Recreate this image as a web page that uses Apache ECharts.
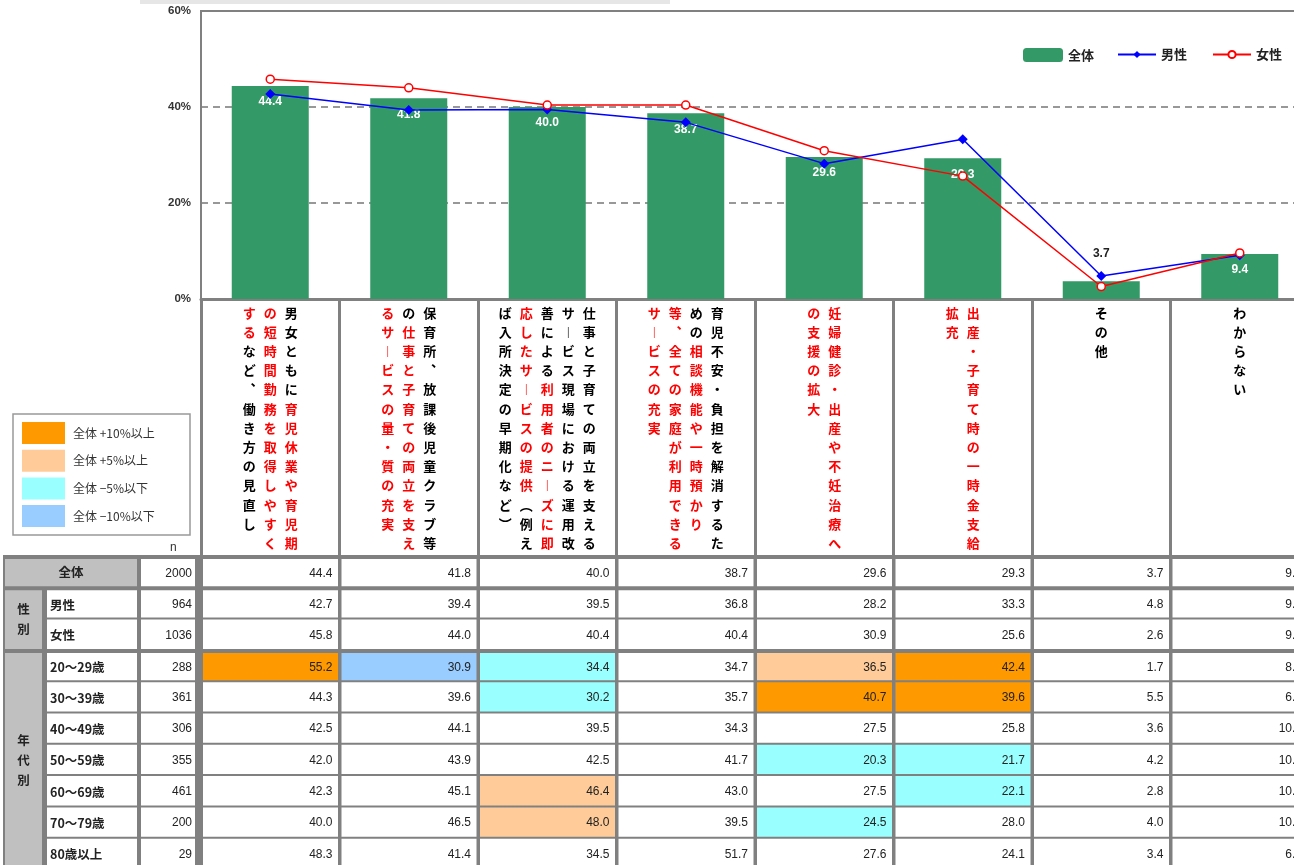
<!DOCTYPE html>
<html>
<head>
<meta charset="utf-8">
<script src="https://cdn.jsdelivr.net/npm/echarts@6/dist/echarts.min.js"></script>
<style>
html, body { margin: 0; padding: 0; background: #fff; }
#chart { width: 1294px; height: 865px; }
</style>
</head>
<body>
<div id="chart"></div>
<script>
// vertical label columns, read right to left; [..] marks red text
const categoryColumns = [
  ['男女ともに[育児休業や育児期]', '[の短時間勤務を取得しやすく]', '[する]など、働き方の見直し'],
  ['保育所、放課後児童クラブ等', 'の[仕事と子育ての両立を支え]', '[るサービスの量・質の充実]'],
  ['仕事と子育ての両立を支える', 'サービス現場における運用改', '善による[利用者のニーズに即]', '[応したサービスの提供]（例え', 'ば入所決定の早期化など）'],
  ['育児不安・負担を解消するた', 'めの[相談機能や一時預かり]', '[等、全ての家庭が利用できる]', '[サービスの充実]'],
  ['[妊婦健診・出産や不妊治療へ]', '[の支援の拡大]'],
  ['[出産・子育て時の一時金支給]', '[拡充]'],
  ['その他'],
  ['わからない']
]
const categories = categoryColumns.map(cols => cols.join('').replace(/[\[\]]/g, ''))

const totalValues = [44.4, 41.8, 40.0, 38.7, 29.6, 29.3, 3.7, 9.4]
const maleValues = [42.7, 39.4, 39.5, 36.8, 28.2, 33.3, 4.8, 9.1]
const femaleValues = [45.8, 44.0, 40.4, 40.4, 30.9, 25.6, 2.6, 9.6]

const totalN = 2000
const genderLabels = ['男性', '女性']
const genderN = [964, 1036]
const ageLabels = ['20～29歳', '30～39歳', '40～49歳', '50～59歳', '60～69歳', '70～79歳', '80歳以上']
const ageN = [288, 361, 306, 355, 461, 200, 29]
const ageValues = [
  [55.2, 30.9, 34.4, 34.7, 36.5, 42.4, 1.7, 8.3],
  [44.3, 39.6, 30.2, 35.7, 40.7, 39.6, 5.5, 6.6],
  [42.5, 44.1, 39.5, 34.3, 27.5, 25.8, 3.6, 10.1],
  [42.0, 43.9, 42.5, 41.7, 20.3, 21.7, 4.2, 10.7],
  [42.3, 45.1, 46.4, 43.0, 27.5, 22.1, 2.8, 10.4],
  [40.0, 46.5, 48.0, 39.5, 24.5, 28.0, 4.0, 10.0],
  [48.3, 41.4, 34.5, 51.7, 27.6, 24.1, 3.4, 6.9]
]

const colorKeys = [
  { label: '全体 +10%以上', color: '#FF9900' },
  { label: '全体 +5%以上', color: '#FFCC99' },
  { label: '全体 −5%以下', color: '#99FFFF' },
  { label: '全体 −10%以下', color: '#99CCFF' }
]

const GREEN = '#339966'
const BORDER = '#808080'
const JP = '"Noto Sans CJK JP", sans-serif'
const NUM = '"Liberation Sans", Arial, sans-serif'

// table rows
const tableRows = [totalValues, maleValues, femaleValues].concat(ageValues)
const tableN = [totalN].concat(genderN, ageN)
const rowNames = ['全体'].concat(genderLabels, ageLabels)

function cellColor(v, c, r) {
  if (r === 0 || tableN[r] < 30) return '#FFFFFF'
  const diff = v - totalValues[c]
  if (diff >= 10) return colorKeys[0].color
  if (diff >= 5) return colorKeys[1].color
  if (diff <= -10) return colorKeys[3].color
  if (diff <= -5) return colorKeys[2].color
  return '#FFFFFF'
}

const tableData = []
tableRows.forEach((row, r) => row.forEach((v, c) => tableData.push([c, r, v])))

function rowTopPad(r) {
  return (r === 0 || r === 1 || r === 3) ? 4 : 2
}

// header column edges (grid units)
const hx = [0, 41, 136, 198]
const headerCells = [
  [0, 2, 0, 0, '全体', 'gc'],
  [2, 3, 0, 0, String(totalN), 'n'],
  [0, 1, 1, 2, '性\n別', 'gv'],
  [0, 1, 3, 9, '年\n代\n別', 'gv']
]
for (let r = 1; r < rowNames.length; r++) {
  headerCells.push([1, 2, r, r, rowNames[r], 'l'])
  headerCells.push([2, 3, r, r, String(tableN[r]), 'n'])
}

// vertical text -> rich rows
const vert = { 'ー': '︱', '、': '︑', '（': '︵', '）': '︶' }
function parseColumn(s) {
  const out = []
  let red = false
  for (const ch of s) {
    if (ch === '[') { red = true; continue }
    if (ch === ']') { red = false; continue }
    out.push({ ch: vert[ch] || ch, red })
  }
  return out
}
const categoryLabels = categoryColumns.map(cols => {
  const parsed = cols.map(parseColumn).reverse()
  const rows = Math.max(...parsed.map(p => p.length))
  const lines = []
  for (let i = 0; i < rows; i++) {
    lines.push(parsed.map(p => {
      const t = p[i]
      if (!t) return '{e|　}'
      return (t.red ? '{r|' : '{k|') + t.ch + '}'
    }).join(''))
  }
  return lines.join('\n')
})

const chart = echarts.init(document.getElementById('chart'))

const legendGraphics = [{
  type: 'rect',
  shape: { x: 13, y: 414, width: 177, height: 121 },
  style: { fill: '#fff', stroke: '#999', lineWidth: 1.5 }
}]
colorKeys.forEach((k, i) => {
  const y = 422 + i * 27.7
  legendGraphics.push({
    type: 'rect',
    shape: { x: 22, y: y, width: 43, height: 22 },
    style: { fill: k.color }
  })
  legendGraphics.push({
    type: 'text',
    style: { text: k.label, x: 73, y: y + 11, verticalAlign: 'middle', font: '12px ' + JP, fill: '#333' }
  })
})

const legendText = { fontFamily: JP, fontSize: 13, fontWeight: 'bold', color: '#222' }
const richBase = { fontFamily: JP, fontSize: 13, fontWeight: 'bold', width: 21, align: 'center', lineHeight: 19.2 }

const option = {
  animation: false,
  backgroundColor: '#fff',
  graphic: [
    { type: 'rect', shape: { x: 140, y: 0, width: 530, height: 4 }, style: { fill: '#e6e6e6' } },
    { type: 'group', children: legendGraphics },
    { type: 'text', style: { text: 'n', x: 170, y: 548, verticalAlign: 'middle', font: '12px ' + NUM, fill: '#333' } }
  ],
  legend: [
    {
      data: ['全体'],
      left: 1018,
      top: 43,
      itemWidth: 40,
      itemHeight: 14,
      textStyle: legendText
    },
    {
      data: ['男性', '女性'],
      left: 1112,
      top: 43,
      itemWidth: 38,
      itemHeight: 9,
      itemGap: 25,
      textStyle: legendText
    }
  ],
  grid: [
    { left: 201, top: 11, width: 1108, height: 288, show: true, borderColor: BORDER, borderWidth: 2, outerBoundsMode: 'none' },
    { left: 201, top: 555, width: 1108, height: 313, show: true, backgroundColor: BORDER, borderWidth: 0, outerBoundsMode: 'none' },
    { left: 3, top: 555, width: 198, height: 313, show: true, backgroundColor: BORDER, borderWidth: 0, outerBoundsMode: 'none' }
  ],
  xAxis: [
    {
      type: 'category',
      gridIndex: 0,
      data: categories,
      axisLine: { lineStyle: { color: BORDER, width: 3 } },
      axisTick: { show: true, length: 256, lineStyle: { color: BORDER, width: 3 } },
      axisLabel: {
        interval: 0,
        margin: 4,
        formatter: (val, idx) => categoryLabels[idx],
        rich: {
          k: Object.assign({ color: '#000' }, richBase),
          r: Object.assign({ color: '#FF0000' }, richBase),
          e: Object.assign({}, richBase)
        }
      }
    },
    {
      type: 'category',
      gridIndex: 0,
      data: categories,
      position: 'bottom',
      axisLine: { show: false },
      axisTick: { show: true, inside: true, length: 5, lineStyle: { color: BORDER, width: 2 } },
      axisLabel: { show: false }
    },
    { type: 'category', gridIndex: 1, data: categories, show: false },
    { type: 'value', gridIndex: 2, min: 0, max: 198, show: false }
  ],
  yAxis: [
    {
      type: 'value',
      gridIndex: 0,
      min: 0,
      max: 60,
      interval: 20,
      axisLine: { show: true, lineStyle: { color: BORDER, width: 2 } },
      axisTick: { show: false },
      axisLabel: { formatter: '{value}%', margin: 10, color: '#333', fontSize: 11.5, fontWeight: 'bold', fontFamily: NUM },
      splitLine: { show: true, showMinLine: false, showMaxLine: false, lineStyle: { color: '#777', width: 1.5, type: [7, 5] } }
    },
    { type: 'category', gridIndex: 1, data: rowNames, inverse: true, show: false },
    { type: 'category', gridIndex: 2, data: rowNames, inverse: true, show: false }
  ],
  series: [
    {
      name: '全体',
      type: 'bar',
      xAxisIndex: 0,
      yAxisIndex: 0,
      barWidth: 77,
      itemStyle: { color: GREEN },
      data: totalValues.map((v, i) => i === 6
        ? { value: v, label: { position: 'top', distance: 22, color: '#222' } }
        : v),
      label: {
        show: true,
        position: 'insideTop',
        distance: 10,
        color: '#fff',
        fontSize: 12,
        fontWeight: 'bold',
        fontFamily: NUM,
        formatter: p => p.value.toFixed(1)
      }
    },
    {
      name: '男性',
      type: 'line',
      xAxisIndex: 0,
      yAxisIndex: 0,
      data: maleValues,
      symbol: 'diamond',
      symbolSize: 10,
      lineStyle: { color: '#0000FF', width: 1.5 },
      itemStyle: { color: '#0000FF' }
    },
    {
      name: '女性',
      type: 'line',
      xAxisIndex: 0,
      yAxisIndex: 0,
      data: femaleValues,
      symbol: 'circle',
      symbolSize: 8,
      lineStyle: { color: '#FF0000', width: 1.5 },
      itemStyle: { color: '#fff', borderColor: '#FF0000', borderWidth: 1.5 }
    },
    {
      type: 'custom',
      xAxisIndex: 2,
      yAxisIndex: 1,
      clip: false,
      data: tableData,
      renderItem: (params, api) => {
        const c = api.value(0)
        const r = api.value(1)
        const v = api.value(2)
        const pt = api.coord([c, r])
        const s = api.size([1, 1])
        const left = pt[0] - s[0] / 2
        const top = pt[1] - s[1] / 2
        const pad = rowTopPad(r)
        return {
          type: 'group',
          children: [
            {
              type: 'rect',
              shape: { x: left + 2, y: top + pad, width: s[0] - 3.5, height: s[1] - pad },
              style: { fill: cellColor(v, c, r) }
            },
            {
              type: 'text',
              style: {
                text: v.toFixed(1),
                x: left + s[0] - 7,
                y: top + pad / 2 + s[1] / 2 + 1,
                align: 'right',
                verticalAlign: 'middle',
                font: '12px ' + NUM,
                fill: '#222'
              }
            }
          ]
        }
      }
    },
    {
      type: 'custom',
      xAxisIndex: 3,
      yAxisIndex: 2,
      clip: false,
      data: headerCells.map(d => [hx[d[0]], d[2]]),
      renderItem: (params, api) => {
        const d = headerCells[params.dataIndex]
        const h = api.size([0, 1])[1]
        const xa = api.coord([hx[d[0]], 0])[0]
        const xb = api.coord([hx[d[1]], 0])[0]
        const ya = api.coord([0, d[2]])[1] - h / 2
        const yb = api.coord([0, d[3]])[1] + h / 2
        const left = xa + (d[0] === 1 ? 3 : 2)
        const right = xb - (d[1] === 3 ? 6 : 2)
        const top = ya + rowTopPad(d[2])
        const gray = d[5] === 'gc' || d[5] === 'gv'
        let text
        if (d[5] === 'n') {
          text = { text: d[4], x: right - 3, y: (top + yb) / 2 + 1, align: 'right', verticalAlign: 'middle', font: '12px ' + NUM, fill: '#222' }
        } else if (d[5] === 'l') {
          text = { text: d[4], x: left + 3, y: (top + yb) / 2 + 1, align: 'left', verticalAlign: 'middle', font: 'bold 12.5px ' + JP, fill: '#222' }
        } else {
          text = { text: d[4], x: (left + right) / 2, y: (top + yb) / 2, align: 'center', verticalAlign: 'middle', font: 'bold 12.5px ' + JP, fill: '#222', lineHeight: 20 }
        }
        return {
          type: 'group',
          children: [
            { type: 'rect', shape: { x: left, y: top, width: right - left, height: yb - top }, style: { fill: gray ? '#C0C0C0' : '#FFFFFF' } },
            { type: 'text', style: text }
          ]
        }
      }
    }
  ]
}

chart.setOption(option)
</script>
</body>
</html>
